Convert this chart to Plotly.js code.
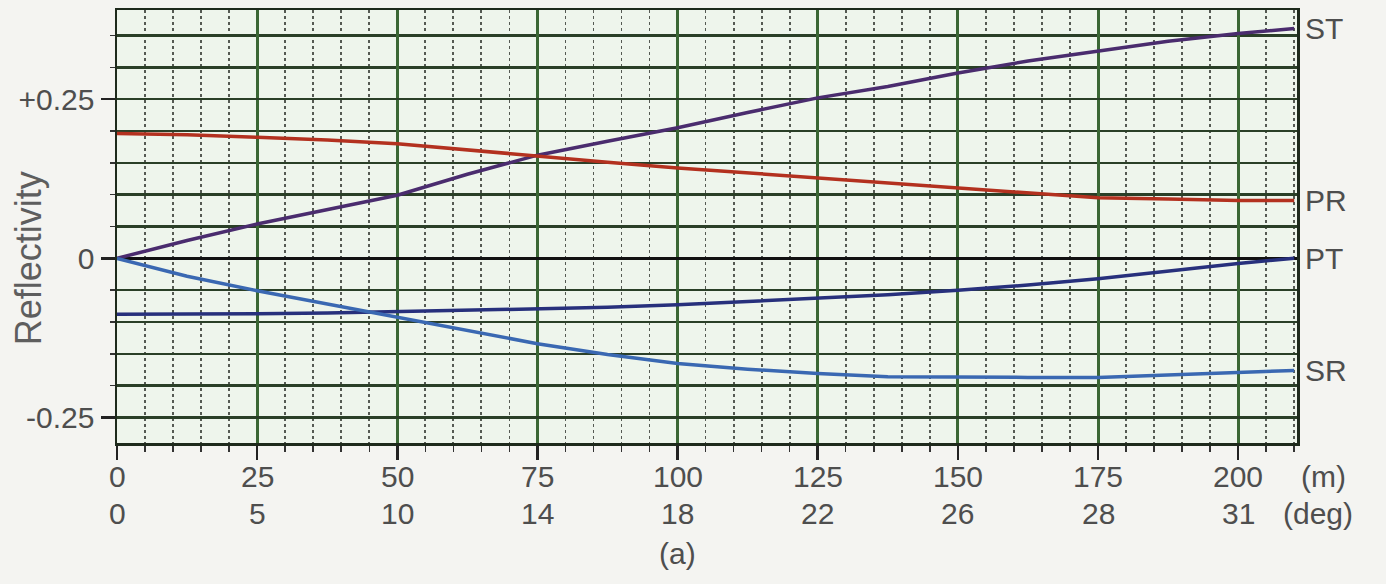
<!DOCTYPE html>
<html>
<head>
<meta charset="utf-8">
<script src="https://cdn.plot.ly/plotly-3.0.1.min.js"></script>
<style>
html,body{margin:0;padding:0;background:#f4f4f1;}
#chart{width:1386px;height:584px;}
</style>
</head>
<body>
<div id="chart"></div>
<script>
// Offset (m) sample positions
var offsetM = [0, 12.5, 25, 37.5, 50, 62.5, 75, 87.5, 100, 112.5, 125, 137.5, 150, 162.5, 175, 187.5, 200, 210];
// Series values (reflectivity)
var ST = [0, 0.028, 0.054, 0.076, 0.099, 0.132, 0.162, 0.184, 0.205, 0.229, 0.252, 0.270, 0.291, 0.310, 0.326, 0.341, 0.353, 0.361];
var PR = [0.196, 0.194, 0.190, 0.186, 0.180, 0.170, 0.161, 0.151, 0.142, 0.134, 0.126, 0.119, 0.110, 0.102, 0.095, 0.093, 0.091, 0.091];
var PT = [-0.088, -0.088, -0.087, -0.086, -0.084, -0.082, -0.080, -0.077, -0.073, -0.068, -0.063, -0.057, -0.050, -0.042, -0.032, -0.020, -0.008, 0.0];
var SR = [0, -0.028, -0.051, -0.072, -0.093, -0.114, -0.134, -0.151, -0.165, -0.174, -0.181, -0.186, -0.187, -0.187, -0.187, -0.183, -0.178, -0.176];
var seriesNames = ['ST', 'PR', 'PT', 'SR'];
var seriesColors = ['#4a2c6e', '#b3311f', '#27307c', '#3a68b2'];

// Tick labels
var mTicks = [0, 25, 50, 75, 100, 125, 150, 175, 200];
var mLabels = ['0', '25', '50', '75', '100', '125', '150', '175', '200'];
var degLabels = ['0', '5', '10', '14', '18', '22', '26', '28', '31'];
var yTicks = [-0.25, 0, 0.25];
var yLabels = ['-0.25', '0', '+0.25'];

var font = 'Liberation Sans, Arial, sans-serif';
var txtColor = '#4e4e4e';
var fs = 30;
var allSeries = [ST, PR, PT, SR];

var traces = allSeries.map(function(s, i){
  return {x: offsetM, y: s, type: 'scatter', mode: 'lines', name: seriesNames[i],
          line: {color: seriesColors[i], width: 3.5}, hoverinfo: 'skip'};
});

var annotations = [];
// right-side series labels at the last value of each series
allSeries.forEach(function(s, i){
  annotations.push({xref: 'paper', yref: 'y', x: 1, y: s[s.length-1], xanchor: 'left', yanchor: 'middle',
    xshift: 6, text: seriesNames[i], showarrow: false, font: {family: font, size: fs, color: txtColor}});
});
// metre row and degree row
mTicks.forEach(function(v, i){
  annotations.push({xref: 'x', yref: 'paper', x: v, y: 0, yanchor: 'middle', xanchor: 'center', yshift: -33,
    text: mLabels[i], showarrow: false, font: {family: font, size: fs, color: txtColor}});
  annotations.push({xref: 'x', yref: 'paper', x: v, y: 0, yanchor: 'middle', xanchor: 'center', yshift: -70,
    text: degLabels[i], showarrow: false, font: {family: font, size: fs, color: txtColor}});
});
annotations.push({xref: 'paper', yref: 'paper', x: 1, y: 0, xanchor: 'left', yanchor: 'middle', xshift: 2, yshift: -33,
  text: '(m)', showarrow: false, font: {family: font, size: fs, color: txtColor}});
annotations.push({xref: 'paper', yref: 'paper', x: 1, y: 0, xanchor: 'left', yanchor: 'middle', xshift: -16, yshift: -70,
  text: '(deg)', showarrow: false, font: {family: font, size: fs, color: txtColor}});
annotations.push({xref: 'x', yref: 'paper', x: 100, y: 0, xanchor: 'center', yanchor: 'middle', yshift: -110,
  text: '(a)', showarrow: false, font: {family: font, size: fs, color: txtColor}});
// y-axis title centred on zero
annotations.push({xref: 'paper', yref: 'y', x: 0, y: 0, xanchor: 'center', yanchor: 'middle', xshift: -89,
  textangle: -90, text: 'Reflectivity', showarrow: false, font: {family: font, size: 36, color: '#5e5e5e'}});

var layout = {
  width: 1386, height: 584,
  paper_bgcolor: '#f4f4f1', plot_bgcolor: '#eef5ec',
  margin: {l: 117, r: 89, t: 10, b: 141},
  showlegend: false,
  font: {family: font, size: fs, color: txtColor},
  xaxis: {
    range: [0, 210.5], tickvals: mTicks, showticklabels: false,
    ticks: 'outside', ticklen: 14, tickwidth: 2.5, tickcolor: '#222',
    showgrid: true, gridcolor: '#3a6634', gridwidth: 3,
    zeroline: false, showline: true, linecolor: '#1e2a1c', linewidth: 2.5, mirror: true,
    minor: {dtick: 5, tick0: 0, ticks: 'outside', ticklen: 6, tickcolor: '#333', tickwidth: 1.5,
            showgrid: true, gridcolor: '#555a53', griddash: 'dot', gridwidth: 1.8},
    fixedrange: true
  },
  yaxis: {
    range: [-0.29, 0.39], tickvals: yTicks, ticktext: yLabels,
    ticks: 'outside', ticklen: 14, tickwidth: 2.5, tickcolor: '#222',
    showgrid: true, gridcolor: '#2a3f27', gridwidth: 2.5,
    zeroline: true, zerolinecolor: '#111', zerolinewidth: 3.5,
    showline: true, linecolor: '#1e2a1c', linewidth: 2.5, mirror: true,
    tickfont: {family: font, size: fs, color: txtColor},
    minor: {dtick: 0.05, tick0: 0, ticks: 'outside', ticklen: 5, tickcolor: '#333', tickwidth: 1.5,
            showgrid: true, gridcolor: '#2a3f27', gridwidth: 2.5},
    fixedrange: true
  },
  annotations: annotations
};

Plotly.newPlot('chart', traces, layout, {displayModeBar: false, staticPlot: true});
</script>
</body>
</html>
